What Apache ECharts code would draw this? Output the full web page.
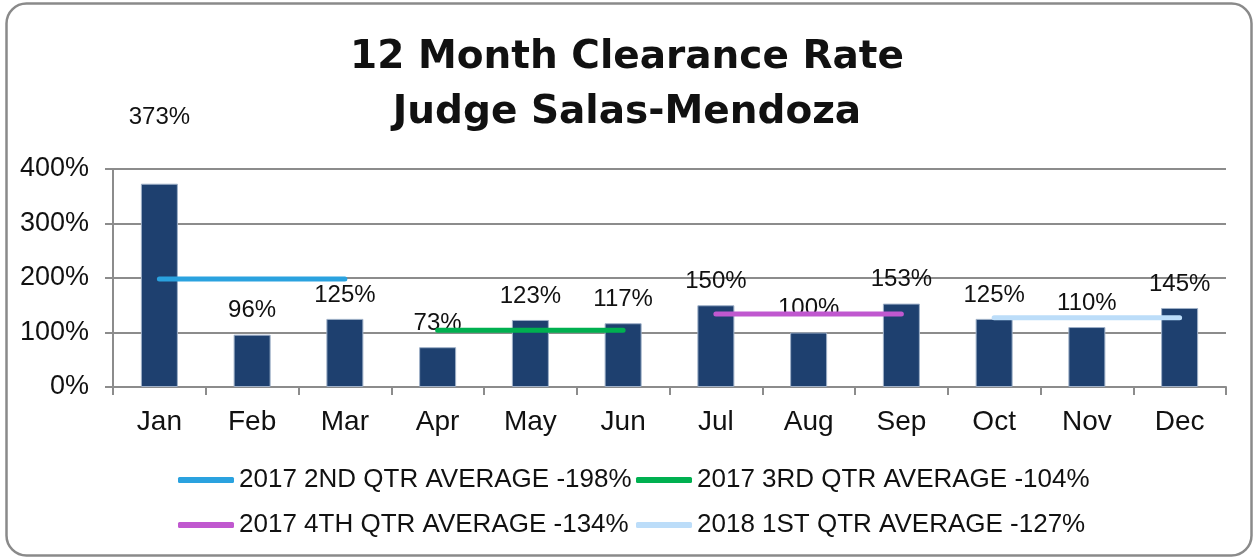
<!DOCTYPE html>
<html><head><meta charset="utf-8">
<script src="https://cdn.jsdelivr.net/npm/echarts@6/dist/echarts.min.js"></script>
<style>html,body{margin:0;padding:0;background:#fff}#c{width:1254px;height:560px}</style>
</head><body><div id="c"></div>
<script>
var months = ['Jan','Feb','Mar','Apr','May','Jun','Jul','Aug','Sep','Oct','Nov','Dec'];
var rates = [373, 96, 125, 73, 123, 117, 150, 100, 153, 125, 110, 145];
var yTicks = [0, 100, 200, 300, 400];
var avgNames = ['2017 2ND QTR AVERAGE -198%','2017 3RD QTR AVERAGE -104%','2017 4TH QTR AVERAGE -134%','2018 1ST QTR AVERAGE -127%'];
var avgValues = [198, 104, 134, 127];
var avgStart = [0, 3, 6, 9];   // first month index of each average line
var avgEnd = [2, 5, 8, 11];    // last month index
var avgColors = ['#2AA2DF','#00B050','#C058CF','#BCDDF9'];

var chart = echarts.init(document.getElementById('c'));
var FONT = 'Liberation Sans, Arial, sans-serif';

var lineSeries = avgNames.map(function(n, k){
  var d = months.map(function(m, i){ return (i >= avgStart[k] && i <= avgEnd[k]) ? avgValues[k] : null; });
  return {
    name: n, type: 'line', data: d, symbol: 'none', z: 5, silent: true,
    lineStyle: {color: avgColors[k], width: 5, cap: 'round'},
    itemStyle: {color: avgColors[k]}
  };
});

var legendPos = [[173,462],[631,462],[173,507],[631,507]];
var legends = avgNames.map(function(n, k){
  return {
    data: [n], left: legendPos[k][0], top: legendPos[k][1],
    icon: 'roundRect', itemWidth: 56, itemHeight: 6,
    textStyle: {fontFamily: FONT, fontSize: 26, color: '#111'},
    selectedMode: false
  };
});

chart.setOption({
  animation: false,
  graphic: [{
    type: 'rect', shape: {x: 6.5, y: 3.5, width: 1245, height: 552, r: 20},
    style: {fill: 'none', stroke: '#8a8a8a', lineWidth: 2.5}, silent: true
  }],
  title: {
    text: '12 Month Clearance Rate\nJudge Salas-Mendoza',
    left: 'center', top: 25,
    textStyle: {fontFamily: 'DejaVu Sans, sans-serif', fontWeight: 'bold', fontSize: 39, lineHeight: 55, color: '#111'}
  },
  legend: legends,
  grid: {left: 113, right: 28, top: 169, bottom: 173, containLabel: false},
  xAxis: {
    type: 'category', data: months, boundaryGap: true,
    axisLine: {lineStyle: {color: '#8c8c8c', width: 2}},
    axisTick: {show: true, length: 8, interval: 0, lineStyle: {color: '#8c8c8c', width: 2}},
    axisLabel: {fontFamily: FONT, fontSize: 28, color: '#111', margin: 21, interval: 0}
  },
  yAxis: {
    type: 'value', min: yTicks[0], max: yTicks[yTicks.length-1], interval: 100,
    axisLine: {show: true, lineStyle: {color: '#8c8c8c', width: 2}},
    axisTick: {show: true, length: 8, lineStyle: {color: '#8c8c8c', width: 2}},
    splitLine: {lineStyle: {color: '#8c8c8c', width: 2}},
    axisLabel: {fontFamily: FONT, fontSize: 27, color: '#111', margin: 24, formatter: '{value}%'}
  },
  series: [{
    type: 'bar', barWidth: 37, z: 2,
    data: rates.map(function(v, i){
      var o = {value: v};
      if (i === 0) o.label = {offset: [0, -42]};
      return o;
    }),
    itemStyle: {color: '#1E406F', borderColor: '#9fb0c8', borderWidth: 1},
    label: {show: true, position: 'top', distance: 12, formatter: '{c}%', fontFamily: FONT, fontSize: 24, color: '#111'}
  }].concat(lineSeries)
});
</script></body></html>
